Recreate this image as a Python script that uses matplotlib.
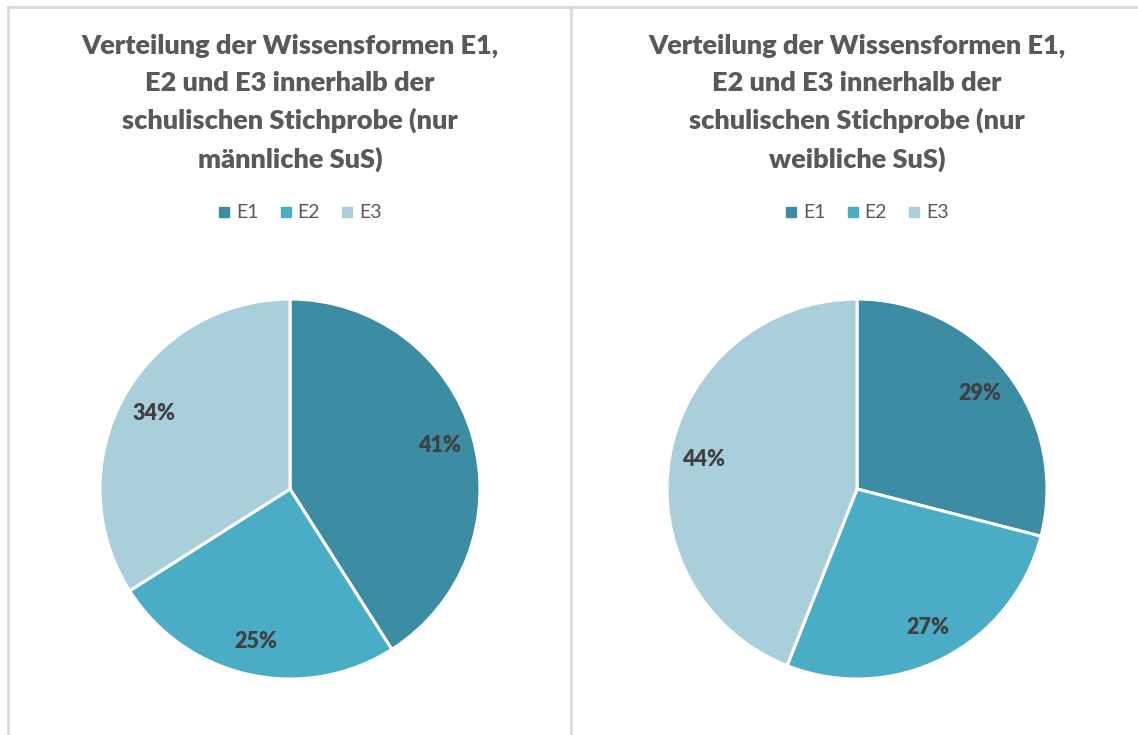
import matplotlib
matplotlib.use("Agg")
import matplotlib.pyplot as plt
from matplotlib.lines import Line2D

W, H = 1138, 735

categories = ["E1", "E2", "E3"]
values_m = [41, 25, 34]
values_w = [29, 27, 44]
titles = [
    "Verteilung der Wissensformen E1,\nE2 und E3 innerhalb der\nschulischen Stichprobe (nur\nmännliche SuS)",
    "Verteilung der Wissensformen E1,\nE2 und E3 innerhalb der\nschulischen Stichprobe (nur\nweibliche SuS)",
]

COLORS = ["#3C8CA4", "#4BACC6", "#A9CFDC"]
TITLE_C = "#595959"
LABEL_C = "#404040"
BORDER = "#D9D9D9"

plt.rcParams["font.family"] = ["Lato", "DejaVu Sans"]

fig = plt.figure(figsize=(W / 100, H / 100), dpi=100, facecolor="white")

# panel borders (pixel coords -> figure fraction)
def fx(px):
    return px / W

def fy(py):
    return 1 - py / H

for x0, x1 in [(8, 571), (571, 1138)]:
    fig.add_artist(Line2D([fx(x0), fx(x1)], [fy(7), fy(7)], color=BORDER, lw=2))
for x in [8, 571]:
    fig.add_artist(Line2D([fx(x), fx(x)], [fy(7), 0], color=BORDER, lw=2))

centers_x = [290, 857]
cy, r = 489, 190

for cx, vals, title in zip(centers_x, [values_m, values_w], titles):
    ax = fig.add_axes([fx(cx - r), fy(cy + r), 2 * r / W, 2 * r / H])
    ax.pie(
        vals, colors=COLORS, startangle=90, counterclock=False,
        autopct=lambda p: f"{p:.0f}%", pctdistance=0.82,
        wedgeprops=dict(edgecolor="white", linewidth=2.2),
        textprops=dict(color=LABEL_C, fontsize=15.5, fontweight="heavy"),
    )
    ax.set_xlim(-1, 1)
    ax.set_ylim(-1, 1)

    fig.text(fx(cx), fy(34), title, ha="center", va="top",
             fontsize=19.5, fontweight="heavy", color=TITLE_C, linespacing=1.62)

    handles = [Line2D([], [], marker="s", linestyle="none", markersize=7,
                      color=c) for c in COLORS]
    ax.legend(handles, categories, loc="center", ncol=3, frameon=False,
              bbox_to_anchor=(fx(cx + 8), fy(213)), bbox_transform=fig.transFigure,
              fontsize=14, handletextpad=0.1, columnspacing=0.9,
              handlelength=1.0, labelcolor=TITLE_C)

fig.savefig("out.png", dpi=100, facecolor="white")
